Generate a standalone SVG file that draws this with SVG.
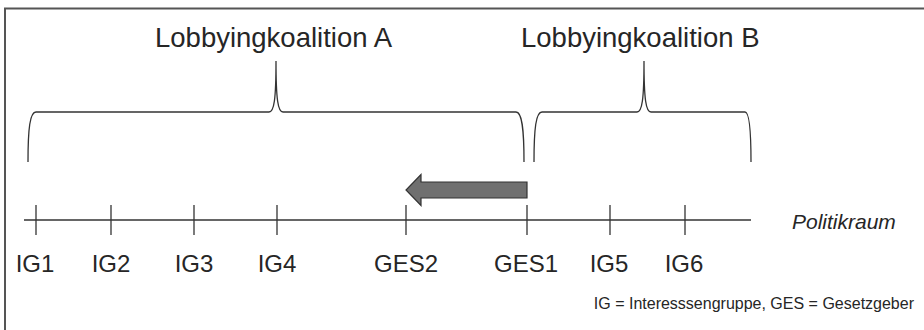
<svg xmlns="http://www.w3.org/2000/svg" width="924" height="330" viewBox="0 0 924 330">
  <style>
    .lbl { font-family: "Liberation Sans", Arial, sans-serif; fill: #262626; }
    .title { font-size: 27.5px; }
    .pos { font-size: 24px; text-anchor: middle; }
    .axisname { font-size: 21px; font-style: italic; }
    .note { font-size: 16px; text-anchor: end; }
    .line { stroke: #333; stroke-width: 1.3; fill: none; }
    .brace { stroke: #333; stroke-width: 1.3; fill: none; }
  </style>

  <rect x="0" y="0" width="924" height="330" fill="#fff"/>
  <!-- outer frame (open at right and bottom) -->
  <rect x="5" y="8.5" width="930" height="340" fill="none" stroke="#555" stroke-width="2"/>

  <!-- coalition braces -->
  <g id="coalition-a">
    <path class="brace" d="M28,162 C28,128 30,112 36,112 L269,112 C274,112 276,100 276,61 C276,100 278,112 283,112 L516,112 C522,112 524,128 524,162"/>
    <text class="lbl title" x="155" y="47">Lobbyingkoalition A</text>
  </g>
  <g id="coalition-b">
    <path class="brace" d="M534,162 C534,128 536,112 542,112 L637,112 C642,112 644,100 644,61 C644,100 646,112 651,112 L745,112 C749,112 751,128 751,162"/>
    <text class="lbl title" x="521" y="47">Lobbyingkoalition B</text>
  </g>

  <!-- policy axis with position ticks and shift arrow -->
  <g id="connectors">
    <line class="line" x1="24" y1="220" x2="751" y2="220"/>
    <g class="line">
      <line x1="36" y1="205" x2="36" y2="235"/>
      <line x1="111" y1="205" x2="111" y2="235"/>
      <line x1="194" y1="205" x2="194" y2="235"/>
      <line x1="277" y1="205" x2="277" y2="235"/>
      <line x1="406" y1="205" x2="406" y2="235"/>
      <line x1="527" y1="205" x2="527" y2="235"/>
      <line x1="610" y1="205" x2="610" y2="235"/>
      <line x1="685" y1="205" x2="685" y2="235"/>
    </g>
    <polygon points="527,182 421,182 421,174.5 406,190 421,205.5 421,198 527,198" fill="#707070" stroke="#333" stroke-width="1.2" stroke-linejoin="miter"/>
  </g>

  <g id="ig1"><text class="lbl pos" x="35" y="272">IG1</text></g>
  <g id="ig2"><text class="lbl pos" x="111" y="272">IG2</text></g>
  <g id="ig3"><text class="lbl pos" x="194" y="272">IG3</text></g>
  <g id="ig4"><text class="lbl pos" x="277" y="272">IG4</text></g>
  <g id="ges2"><text class="lbl pos" x="406" y="272">GES2</text></g>
  <g id="ges1"><text class="lbl pos" x="526" y="272">GES1</text></g>
  <g id="ig5"><text class="lbl pos" x="609" y="272">IG5</text></g>
  <g id="ig6"><text class="lbl pos" x="684" y="272">IG6</text></g>

  <g id="axis-label"><text class="lbl axisname" x="792" y="229">Politikraum</text></g>
  <g id="legend"><text class="lbl note" x="914" y="309">IG = Interesssengruppe, GES = Gesetzgeber</text></g>
</svg>
